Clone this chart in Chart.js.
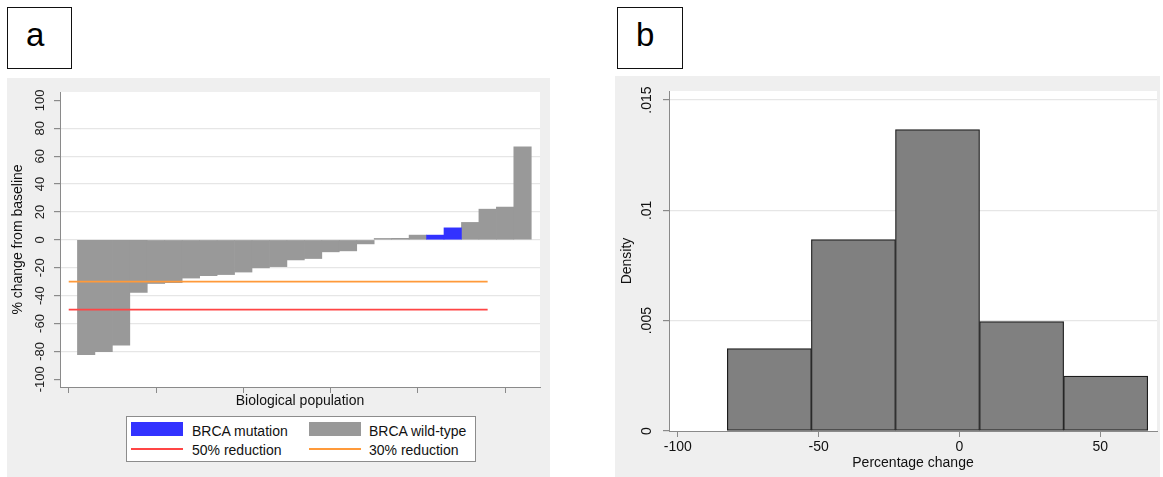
<!DOCTYPE html>
<html>
<head>
<meta charset="utf-8">
<title>Tumour response</title>
<script src="https://cdn.jsdelivr.net/npm/chart.js@4.4.1/dist/chart.umd.min.js"></script>
<style>
  html, body { margin: 0; padding: 0; background: #fff; width: 1163px; height: 477px; overflow: hidden;
    font-family: "Liberation Sans", Arial, sans-serif; }
  .tag-box { position: absolute; border: 1.5px solid #111; box-sizing: border-box; background: #fff; }
  .tag { position: absolute; font-size: 33px; line-height: 33px; color: #000; }
  canvas { position: absolute; background: #efefef; }
  .legend { position: absolute; left: 126px; top: 416px; width: 350px; height: 46px; box-sizing: border-box;
    border: 1px solid #8c8c8c; background: #fff; }
  .swatch { position: absolute; width: 52px; }
  .lab { position: absolute; font-size: 14px; line-height: 16px; color: #111; white-space: nowrap; }
</style>
</head>
<body>
<div class="tag-box" style="left:7px;top:7px;width:65px;height:62px;"></div>
<div class="tag" style="left:26px;top:18px;">a</div>
<div class="tag-box" style="left:617px;top:7px;width:66px;height:62px;"></div>
<div class="tag" style="left:636px;top:18px;">b</div>

<canvas id="waterfall" width="543" height="399" style="left:7px;top:78px;"></canvas>
<canvas id="histogram" width="545" height="401" style="left:615px;top:76px;"></canvas>

<div class="legend"></div>
<div class="swatch" style="left:131px;top:422px;height:14px;background:#3232ff;"></div>
<div class="lab" style="left:192px;top:423px;">BRCA mutation</div>
<div class="swatch" style="left:309px;top:422px;height:14px;background:#999999;"></div>
<div class="lab" style="left:369px;top:423px;">BRCA wild-type</div>
<div class="swatch" style="left:131px;top:448px;height:2px;background:#ff4545;"></div>
<div class="lab" style="left:192px;top:442px;">50% reduction</div>
<div class="swatch" style="left:309px;top:448px;height:2px;background:#ff9a3a;"></div>
<div class="lab" style="left:369px;top:442px;">30% reduction</div>

<script>
// ---- Waterfall: best % change from baseline, one bar per patient (sorted) ----
const changeFromBaseline = [-82.3, -80.2, -75.5, -37.7, -31.3, -30.7, -27.4, -25.7, -24.9, -23.1,
                            -20.1, -19.2, -14.4, -13.4, -8.6, -7.9, -2.9, 1.0, 1.1, 3.4,
                            3.4, 8.6, 12.5, 22.0, 23.5, 66.7];
const brcaMutationRanks = [21, 22];          // patients (by rank) carrying a BRCA mutation
const reduction50 = -50;
const reduction30 = -30;
const thresholdSpan = [0, 24];               // x-extent of the reference lines
const changeTicks = [-100, -80, -60, -40, -20, 0, 20, 40, 60, 80, 100];
const rankTicks = [0, 5, 10, 15, 20, 25];

// ---- Histogram of the same response measure ----
const binEdges = [-82.4, -52.56, -22.72, 7.12, 36.96, 66.8];
const binDensity = [0.00373, 0.00867, 0.01366, 0.00496, 0.00249];
const pctTicks = [-100, -50, 0, 50];
const densityTicks = [0, 0.005, 0.01, 0.015];
const densityTickLabels = ['0', '.005', '.01', '.015'];

Chart.defaults.font.family = '"Liberation Sans", Arial, sans-serif';
Chart.defaults.color = '#111';
Chart.defaults.animation = false;

const plotBackground = {
  id: 'plotBackground',
  beforeDraw(chart) {
    const { ctx, chartArea: { left, top, width, height } } = chart;
    ctx.save();
    ctx.fillStyle = '#ffffff';
    ctx.fillRect(left, top, width, height);
    ctx.restore();
  }
};

const AXIS = '#8a8a8a';
const GRID = '#e6e6e6';
const NONE = 'rgba(0,0,0,0)';

// waterfall datasets
const wildType = [], mutated = [];
changeFromBaseline.forEach((v, i) => {
  const rank = i + 1;
  (brcaMutationRanks.includes(rank) ? mutated : wildType).push({ x: rank, y: v });
});

new Chart(document.getElementById('waterfall'), {
  type: 'bar',
  data: {
    datasets: [
      { type: 'line', label: '50% reduction', order: 0,
        data: thresholdSpan.map(x => ({ x, y: reduction50 })),
        borderColor: '#ff4545', borderWidth: 1.7, pointRadius: 0, fill: false },
      { type: 'line', label: '30% reduction', order: 0,
        data: thresholdSpan.map(x => ({ x, y: reduction30 })),
        borderColor: '#ff9a3a', borderWidth: 1.7, pointRadius: 0, fill: false },
      { label: 'BRCA mutation', order: 1, data: mutated, backgroundColor: '#3232ff',
        borderWidth: 0, grouped: false, barPercentage: 1, categoryPercentage: 1 },
      { label: 'BRCA wild-type', order: 1, data: wildType, backgroundColor: '#999999',
        borderWidth: 0, grouped: false, barPercentage: 1, categoryPercentage: 1 }
    ]
  },
  options: {
    responsive: false,
    devicePixelRatio: 1,
    layout: { padding: { left: 0, top: 14, right: 10, bottom: 67 } },
    plugins: { legend: { display: false }, tooltip: { enabled: false } },
    scales: {
      x: {
        type: 'linear', min: -0.5, max: 27, offset: false,
        afterBuildTicks: s => { s.ticks = rankTicks.map(value => ({ value })); },
        afterFit: s => { s.height = 23; },
        ticks: { autoSkip: false, callback: () => '' },
        grid: { drawOnChartArea: false, drawTicks: true, tickLength: 6, tickColor: AXIS, offset: false },
        border: { display: true, color: AXIS, width: 1 },
        title: { display: true, text: 'Biological population', font: { size: 14 }, padding: 0, color: '#111' }
      },
      y: {
        min: -105.5, max: 106,
        afterBuildTicks: s => { s.ticks = changeTicks.map(value => ({ value })); },
        afterFit: s => { s.width = 53; },
        ticks: { autoSkip: false, minRotation: 90, maxRotation: 90, crossAlign: 'center',
                 padding: 1, font: { size: 13 }, color: '#222' },
        grid: { color: c => (c.tick && Math.abs(c.tick.value) === 100) ? NONE : GRID,
                lineWidth: 1.2, tickLength: 6, tickColor: AXIS },
        border: { display: true, color: AXIS, width: 1 },
        title: { display: true, text: '% change from baseline', font: { size: 14 },
                 padding: { top: 3, bottom: 0 }, color: '#111' }
      }
    }
  },
  plugins: [plotBackground]
});

new Chart(document.getElementById('histogram'), {
  type: 'bar',
  data: {
    datasets: [{
      label: 'Density',
      data: binDensity.map((d, i) => ({ x: (binEdges[i] + binEdges[i + 1]) / 2, y: d })),
      backgroundColor: '#808080', borderColor: '#1c1c1c', borderWidth: 1.2, borderSkipped: false,
      barPercentage: 1, categoryPercentage: 1
    }]
  },
  options: {
    responsive: false,
    devicePixelRatio: 1,
    layout: { padding: { left: 0, top: 15, right: 3, bottom: 5 } },
    plugins: { legend: { display: false }, tooltip: { enabled: false } },
    scales: {
      x: {
        type: 'linear', min: -103.1, max: 70.1, offset: false,
        afterBuildTicks: s => { s.ticks = pctTicks.map(value => ({ value })); },
        afterFit: s => { s.height = 41; },
        ticks: { autoSkip: false, maxRotation: 0, padding: 2, font: { size: 14 }, color: '#111',
                 callback: v => String(v) },
        grid: { drawOnChartArea: false, drawTicks: true, tickLength: 6, tickColor: AXIS, offset: false },
        border: { display: true, color: AXIS, width: 1 },
        title: { display: true, text: 'Percentage change', font: { size: 14 }, padding: 0, color: '#111' }
      },
      y: {
        min: 0, max: 0.015408,
        afterBuildTicks: s => { s.ticks = densityTicks.map(value => ({ value })); },
        afterFit: s => { s.width = 54; },
        ticks: { autoSkip: false, minRotation: 90, maxRotation: 90, crossAlign: 'center',
                 padding: 2, font: { size: 14 }, color: '#111',
                 callback: (v, i) => densityTickLabels[i] },
        grid: { color: c => (c.tick && c.tick.value === 0) ? NONE : GRID,
                lineWidth: 1.2, tickLength: 6, tickColor: AXIS },
        border: { display: true, color: AXIS, width: 1 },
        title: { display: true, text: 'Density', font: { size: 14 },
                 padding: { top: 4, bottom: 0 }, color: '#111' }
      }
    }
  },
  plugins: [plotBackground]
});
</script>
</body>
</html>
